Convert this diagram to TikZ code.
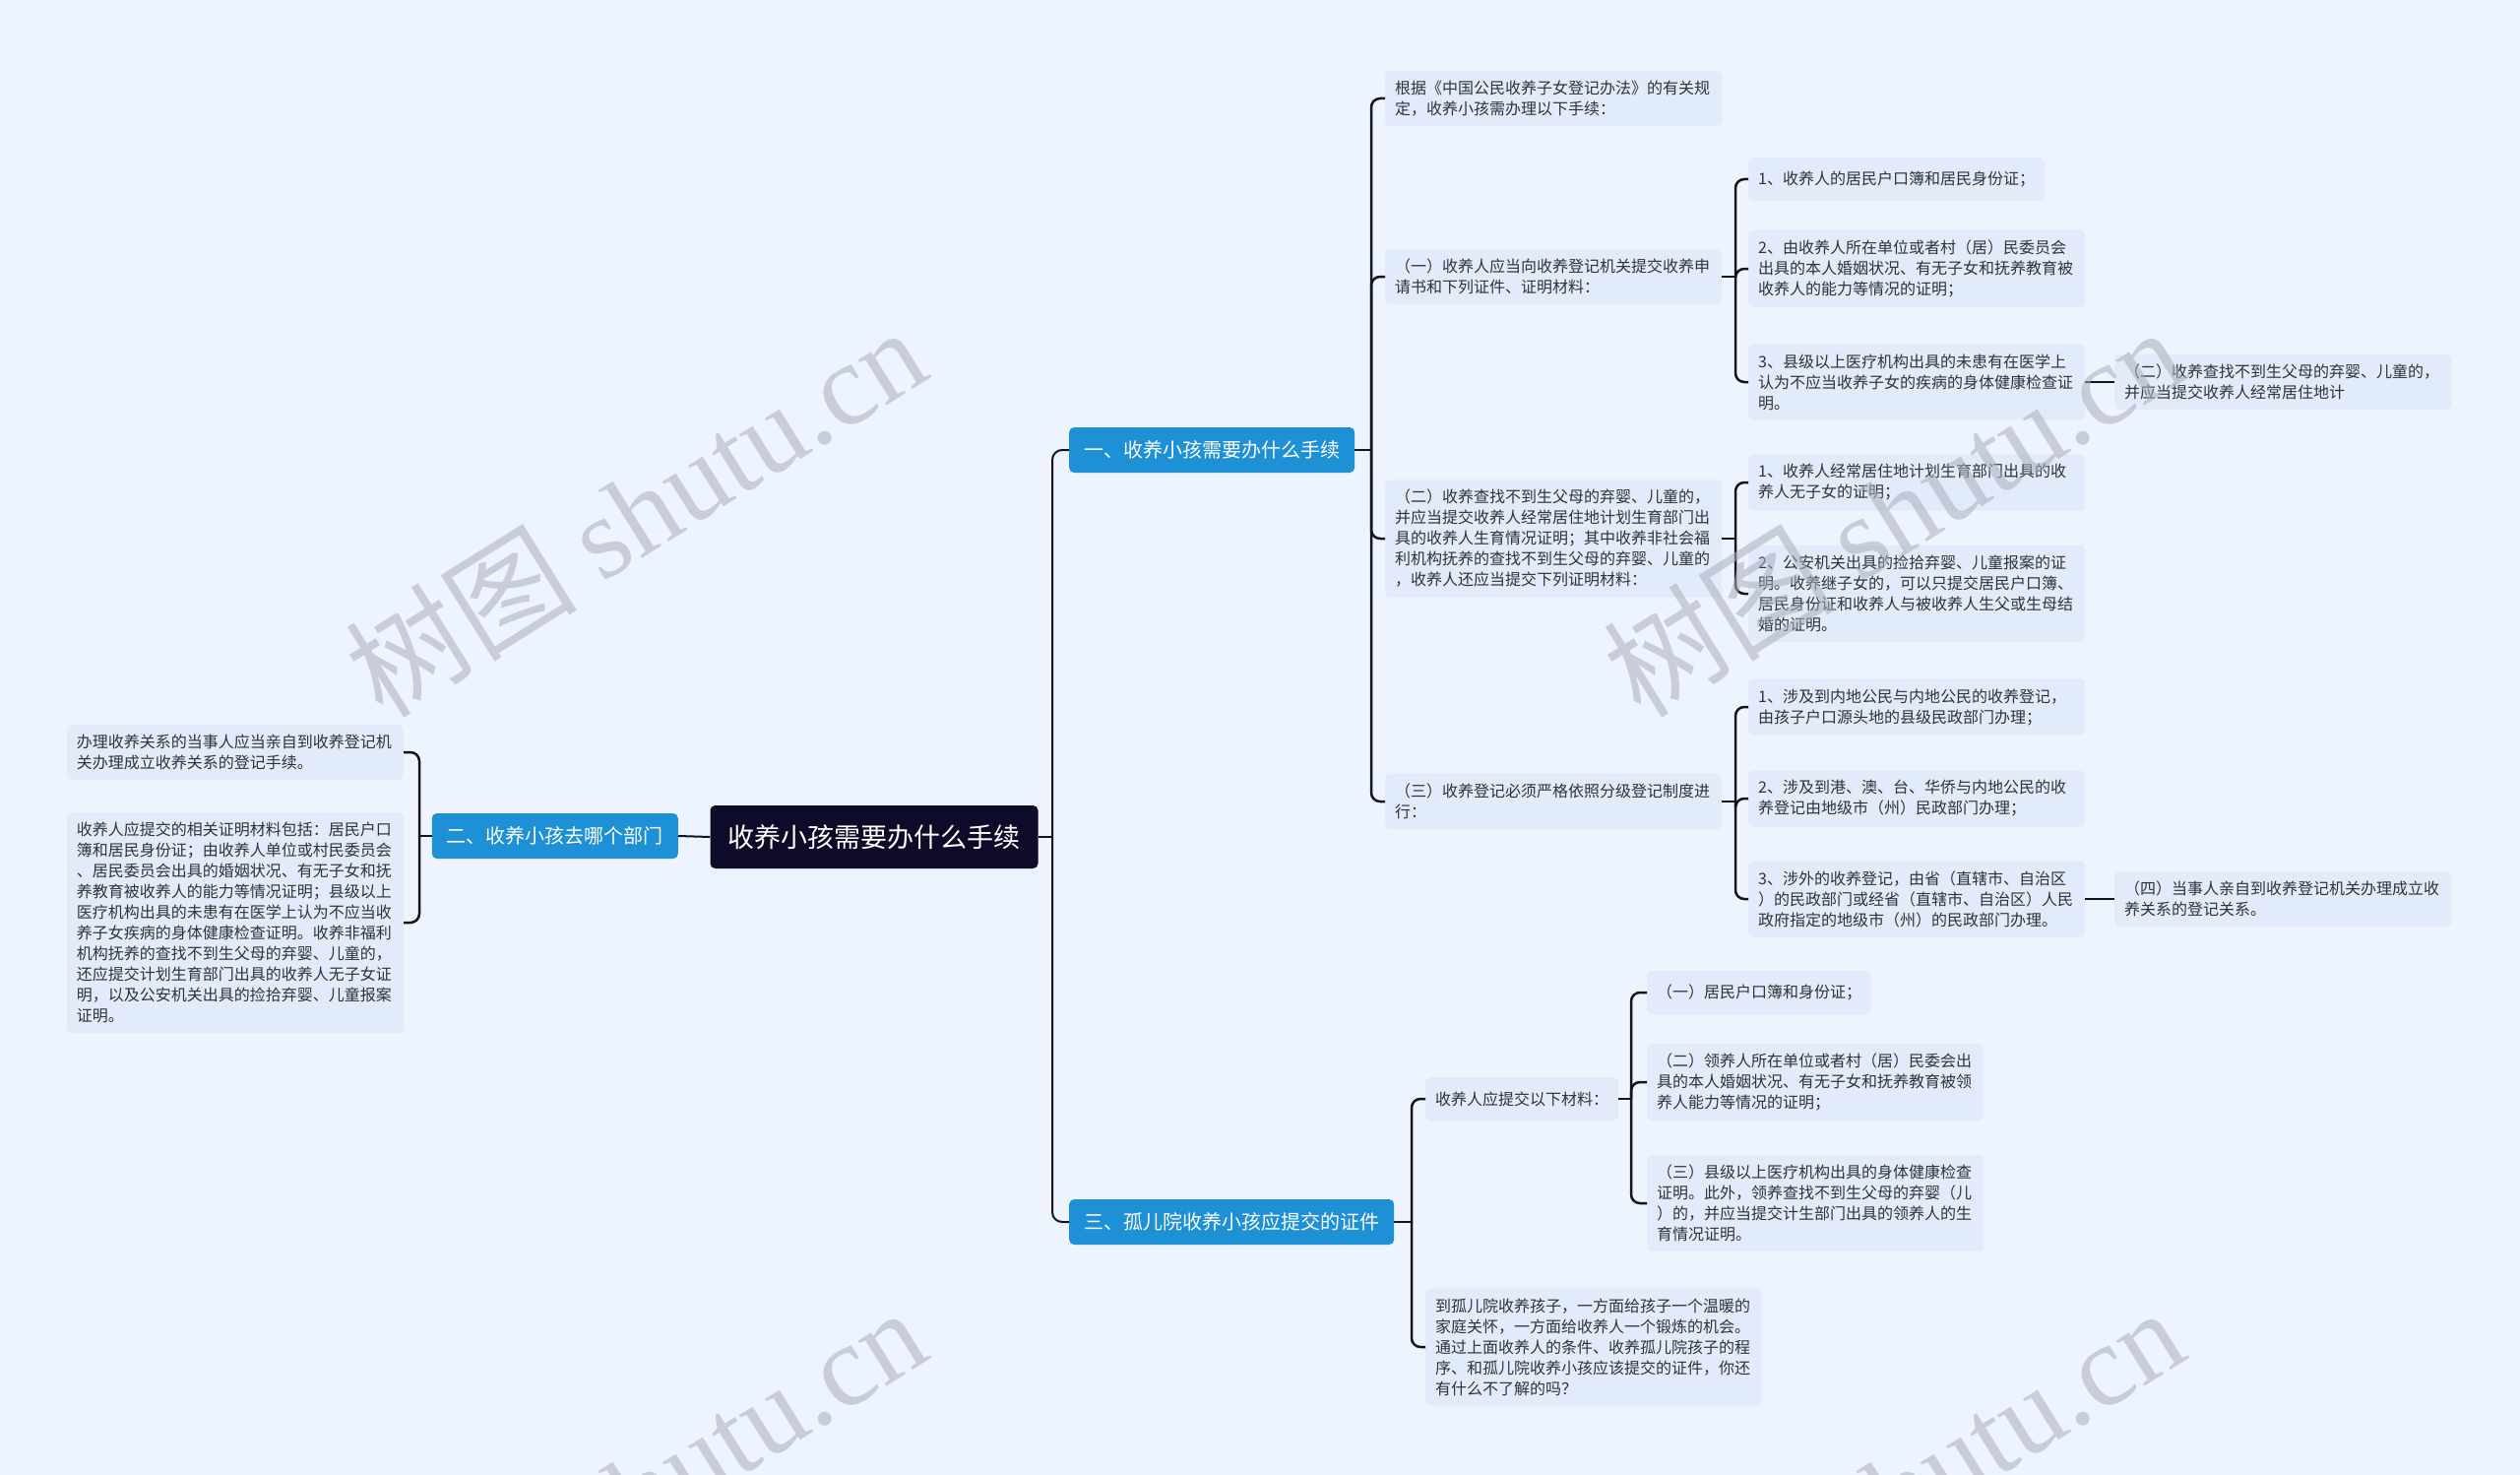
\documentclass[tikz,border=0pt]{standalone}
\usepackage{fontspec}
\setmainfont{Noto Sans CJK SC}
\newfontfamily\wmlatin{Liberation Serif}
\newfontfamily\cjk{Noto Sans CJK SC}
\definecolor{bgc}{RGB}{238,244,253}
\definecolor{leaffill}{RGB}{226,235,250}
\definecolor{branchc}{RGB}{30,144,214}
\definecolor{rootc}{RGB}{14,10,42}
\definecolor{linec}{RGB}{20,20,30}
\definecolor{textc}{RGB}{50,50,55}
\definecolor{wmc}{RGB}{170,174,186}
\tikzset{
  leaf/.style={fill=leaffill, rounded corners=5pt, inner xsep=10pt, inner ysep=10pt,
    align=left, font=\fontsize{16}{21}\selectfont, minimum height=44pt, text=textc, anchor=west},
  wide/.style={leaf, text width=322pt},
  branch/.style={fill=branchc, rounded corners=5pt, inner xsep=15pt, inner ysep=6pt,
    font=\fontsize{20}{24}\selectfont, minimum height=46pt, text=white},
  rootnode/.style={fill=rootc, rounded corners=5pt, inner xsep=18pt,
    font=\fontsize{27}{32}\selectfont, minimum height=64pt, text=white},
  mainconn/.style={draw=linec, line width=2pt, rounded corners=10pt},
  conn/.style={draw=linec, line width=2.5pt, rounded corners=9pt},
  wm/.style={rotate=32, text=wmc, opacity=0.55, font=\fontsize{118}{118}\selectfont}
}
\begin{document}
\begin{tikzpicture}[x=1pt,y=-1pt]
\fill[bgc] (0,0) rectangle (2560,1498);
\useasboundingbox (0,0) rectangle (2560,1498);

% root and branches
\node[rootnode] (root) at (888,850) {收养小孩需要办什么手续};
\node[branch, anchor=west] (b1) at (1086,457) {一、收养小孩需要办什么手续};
\node[branch, anchor=east] (b2) at (689,849) {二、收养小孩去哪个部门};
\node[branch, anchor=west] (b3) at (1086,1241) {三、孤儿院收养小孩应提交的证件};

% branch 1 children
\node[wide] (la) at (1407,100) {根据《中国公民收养子女登记办法》的有关规\\定，收养小孩需办理以下手续：};
\node[wide] (lb) at (1407,281) {（一）收养人应当向收养登记机关提交收养申\\请书和下列证件、证明材料：};
\node[wide] (lc) at (1407,547) {（二）收养查找不到生父母的弃婴、儿童的，\\并应当提交收养人经常居住地计划生育部门出\\具的收养人生育情况证明；其中收养非社会福\\利机构抚养的查找不到生父母的弃婴、儿童的\\，收养人还应当提交下列证明材料：};
\node[wide] (ld) at (1407,814) {（三）收养登记必须严格依照分级登记制度进\\行：};

\node[leaf] (lb1) at (1776,182) {1、收养人的居民户口簿和居民身份证；};
\node[wide] (lb2) at (1776,273) {2、由收养人所在单位或者村（居）民委员会\\出具的本人婚姻状况、有无子女和抚养教育被\\收养人的能力等情况的证明；};
\node[wide] (lb3) at (1776,388) {3、县级以上医疗机构出具的未患有在医学上\\认为不应当收养子女的疾病的身体健康检查证\\明。};
\node[wide] (lb3x) at (2148,388) {（二）收养查找不到生父母的弃婴、儿童的，\\并应当提交收养人经常居住地计};

\node[wide] (lc1) at (1776,490) {1、收养人经常居住地计划生育部门出具的收\\养人无子女的证明；};
\node[wide] (lc2) at (1776,603) {2、公安机关出具的捡拾弃婴、儿童报案的证\\明。收养继子女的，可以只提交居民户口簿、\\居民身份证和收养人与被收养人生父或生母结\\婚的证明。};

\node[wide] (ld1) at (1776,718) {1、涉及到内地公民与内地公民的收养登记，\\由孩子户口源头地的县级民政部门办理；};
\node[wide] (ld2) at (1776,811) {2、涉及到港、澳、台、华侨与内地公民的收\\养登记由地级市（州）民政部门办理；};
\node[wide] (ld3) at (1776,913) {3、涉外的收养登记，由省（直辖市、自治区\\）的民政部门或经省（直辖市、自治区）人民\\政府指定的地级市（州）的民政部门办理。};
\node[wide] (ld3x) at (2148,913) {（四）当事人亲自到收养登记机关办理成立收\\养关系的登记关系。};

% branch 3 children
\node[leaf] (le1) at (1448,1116) {收养人应提交以下材料：};
\node[leaf] (le1a) at (1673,1008) {（一）居民户口簿和身份证；};
\node[wide] (le1b) at (1673,1099) {（二）领养人所在单位或者村（居）民委会出\\具的本人婚姻状况、有无子女和抚养教育被领\\养人能力等情况的证明；};
\node[wide] (le1c) at (1673,1222) {（三）县级以上医疗机构出具的身体健康检查\\证明。此外，领养查找不到生父母的弃婴（儿\\）的，并应当提交计生部门出具的领养人的生\\育情况证明。};
\node[wide] (le2) at (1448,1368) {到孤儿院收养孩子，一方面给孩子一个温暖的\\家庭关怀，一方面给收养人一个锻炼的机会。\\通过上面收养人的条件、收养孤儿院孩子的程\\序、和孤儿院收养小孩应该提交的证件，你还\\有什么不了解的吗？};

% branch 2 children
\node[wide, anchor=east] (lf1) at (410,764) {办理收养关系的当事人应当亲自到收养登记机\\关办理成立收养关系的登记手续。};
\node[wide, anchor=east] (lf2) at (410,937) {收养人应提交的相关证明材料包括：居民户口\\簿和居民身份证；由收养人单位或村民委员会\\、居民委员会出具的婚姻状况、有无子女和抚\\养教育被收养人的能力等情况证明；县级以上\\医疗机构出具的未患有在医学上认为不应当收\\养子女疾病的身体健康检查证明。收养非福利\\机构抚养的查找不到生父母的弃婴、儿童的，\\还应提交计划生育部门出具的收养人无子女证\\明，以及公安机关出具的捡拾弃婴、儿童报案\\证明。};

% trunk coordinates
\coordinate (t0) at (1069,850);
\coordinate (t1) at (1393,457);
\coordinate (t2) at (1763,281);
\coordinate (t3) at (1763,547);
\coordinate (t4) at (1763,814);
\coordinate (t5) at (1434,1241);
\coordinate (t6) at (1657,1116);
\coordinate (t7) at (426,849);

% main connectors
\draw[mainconn] (root.east) -- (t0);
\draw[mainconn] (t0) |- (b1.west);
\draw[mainconn] (t0) |- (b3.west);
\draw[mainconn] (root.west) -- (b2.east);

% branch 1
\draw[conn] (b1.east) -- (t1);
\foreach \n in {la,lb,lc,ld} { \draw[conn] (t1) |- (\n.west); }
\draw[conn] (lb.east) -- (t2);
\foreach \n in {lb1,lb2,lb3} { \draw[conn] (t2) |- (\n.west); }
\draw[conn] (lb3.east) -- (lb3x.west);
\draw[conn] (lc.east) -- (t3);
\foreach \n in {lc1,lc2} { \draw[conn] (t3) |- (\n.west); }
\draw[conn] (ld.east) -- (t4);
\foreach \n in {ld1,ld2,ld3} { \draw[conn] (t4) |- (\n.west); }
\draw[conn] (ld3.east) -- (ld3x.west);

% branch 3
\draw[conn] (b3.east) -- (t5);
\foreach \n in {le1,le2} { \draw[conn] (t5) |- (\n.west); }
\draw[conn] (le1.east) -- (t6);
\foreach \n in {le1a,le1b,le1c} { \draw[conn] (t6) |- (\n.west); }

% branch 2
\draw[conn] (b2.west) -- (t7);
\foreach \n in {lf1,lf2} { \draw[conn] (t7) |- (\n.east); }

% watermarks
\node[wm] (w1) at (645,519) {{\cjk 树图} {\wmlatin shutu.cn}};
\node[wm] (w2) at (1923,519) {{\cjk 树图} {\wmlatin shutu.cn}};
\node[wm] (w3) at (645,1515) {{\cjk 树图} {\wmlatin shutu.cn}};
\node[wm] (w4) at (1923,1515) {{\cjk 树图} {\wmlatin shutu.cn}};
\end{tikzpicture}
\end{document}
